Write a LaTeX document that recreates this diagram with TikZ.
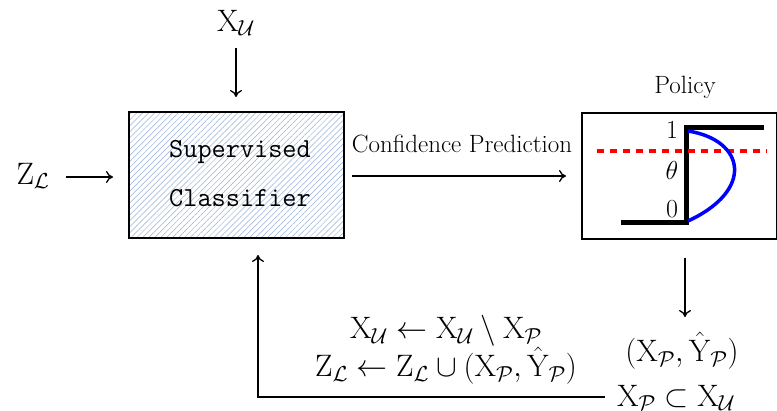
\RequirePackage{fix-cm}
\documentclass[tikz,border=0pt]{standalone}
\usepackage{amsmath,amssymb}
\usetikzlibrary{arrows.meta,patterns.meta}
\newcommand{\XU}{\mathrm{X}_{\mathcal{U}}}
\newcommand{\XP}{\mathrm{X}_{\mathcal{P}}}
\newcommand{\YP}{\hat{\mathrm{Y}}_{\mathcal{P}}}
\newcommand{\ZL}{\mathrm{Z}_{\mathcal{L}}}
\definecolor{hatch}{RGB}{150,175,215}
\begin{document}
\begin{tikzpicture}[x=1pt,y=-1pt,
  mathlbl/.style={inner sep=0pt,font=\fontsize{31}{36}\selectfont},
  txtlbl/.style={inner sep=0pt,font=\fontsize{25}{30}\selectfont},
  digit/.style={inner sep=0pt,font=\fontsize{26}{30}\selectfont},
  arr/.style={-{To[length=7pt,width=12pt]},line width=1.3pt},
  boxstyle/.style={draw,line width=2pt}]
\useasboundingbox (0,0) rectangle (777,410);
% classifier
\node[boxstyle,minimum width=215pt,minimum height=126pt,
      pattern={Lines[angle=45,distance=4.2pt,line width=0.5pt]},pattern color=hatch,
      anchor=north west] (clf) at (129,112) {};
\node[inner sep=0pt,align=center,font=\ttfamily\fontsize{27.5}{49}\selectfont] (clftxt) at (240,174) {Supervised\\Classifier};
% inputs
\node[mathlbl] (xu) at (236,23) {$\XU$};
\node[mathlbl] (zl) at (33,176) {$\ZL$};
\coordinate (xuA) at (236,48);
\coordinate (xuB) at (236,97);
\draw[arr] (xuA) -- (xuB);
\coordinate (zlA) at (66,177);
\coordinate (zlB) at (113,177);
\draw[arr] (zlA) -- (zlB);
% policy box
\node[boxstyle,minimum width=195pt,minimum height=126pt,anchor=north west] (pol) at (581,112) {};
\node[txtlbl] (poltitle) at (685,87) {Policy};
% confidence arrow
\coordinate (cA) at (352,176);
\coordinate (cB) at (566,176);
\draw[arr] (cA) -- (cB);
\node[txtlbl] (conf) at (462,144) {Confidence Prediction};
% policy plot
\coordinate (s0) at (621,222);
\coordinate (s1) at (686,222);
\coordinate (s2) at (686,127);
\coordinate (s3) at (764,127);
\draw[line width=5pt,line join=miter] (s0) -- (s1) -- (s2) -- (s3);
\draw[red,line width=4pt,dash pattern=on 7pt off 6pt] (597,151) -- (767,151);
\draw[blue,line width=3.5pt] (688,131) .. controls (745,140) and (755,190) .. (688,221);
\node[digit] (one) at (672,130) {1};
\node[digit] (theta) at (672,170) {$\theta$};
\node[digit] (zero) at (672,209) {0};
% output
\coordinate (pA) at (685,258);
\coordinate (pB) at (685,317);
\draw[arr] (pA) -- (pB);
\node[mathlbl] (sel) at (682,351) {$(\XP,\YP)$};
\node[mathlbl,anchor=west] (sub) at (617,398) {$\XP\subset\XU$};
% feedback
\coordinate (fA) at (605,397);
\coordinate (fC) at (258,397);
\coordinate (fB) at (258,255);
\draw[arr] (fA) -- (fC) -- (fB);
\node[mathlbl,align=center,font=\fontsize{31}{38}\selectfont] (upd) at (446,350)
  {$\XU\leftarrow\XU\setminus\XP$\\$\ZL\leftarrow\ZL\cup(\XP,\YP)$};
\end{tikzpicture}
\end{document}
